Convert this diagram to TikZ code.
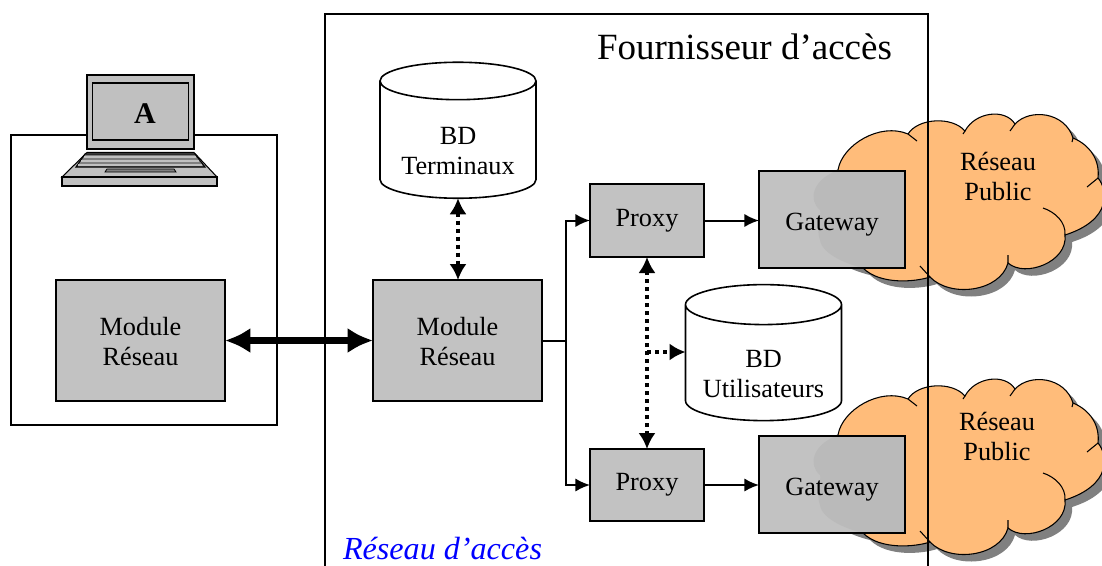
\documentclass[tikz,border=0pt]{standalone}
\usepackage{fontspec}
\setmainfont{Liberation Serif}
\usetikzlibrary{arrows.meta}
\usetikzlibrary{shapes.geometric}
\definecolor{cloudfill}{HTML}{FFBC7A}
\definecolor{boxgray}{HTML}{C2C2C2}
\definecolor{boxgrayb}{HTML}{BABABA}
\definecolor{lapgray}{HTML}{C0C0C0}
\definecolor{cloudshade}{HTML}{808080}
\newcommand{\labelfont}{\fontsize{19.7}{22.5}\selectfont}
\newcommand{\cloudoutline}{(838,170) .. controls (842,145) and (880,122) .. (908,134)
  .. controls (918,118) and (952,116) .. (965,131)
  .. controls (975,112) and (1005,108) .. (1015,124)
  .. controls (1030,108) and (1065,112) .. (1073,138)
  .. controls (1090,145) and (1100,160) .. (1098,178)
  .. controls (1108,190) and (1112,220) .. (1065,235)
  .. controls (1068,262) and (1025,278) .. (1008,263)
  .. controls (1000,292) and (950,298) .. (930,277)
  .. controls (915,282) and (880,285) .. (863,268)
  .. controls (850,265) and (822,255) .. (820,240)
  .. controls (815,225) and (822,215) .. (820,210)
  .. controls (808,200) and (812,180) .. (838,170) -- cycle}
\tikzset{
  modbox/.style={draw, line width=1.5pt, fill=boxgray, align=center, font=\labelfont, inner sep=0pt, outer sep=0pt},
  dbcyl/.style={draw, line width=1.2pt, fill=white, cylinder, shape border rotate=90, aspect=0.33,
    minimum width=117pt, minimum height=102pt, align=center, font=\labelfont, inner sep=0pt, outer sep=0pt},
  dblabel/.style={align=center, font=\labelfont},
  dotarrow/.style={line width=3pt, dash pattern=on 3pt off 3pt, {Latex[length=12pt,width=13pt]}-{Latex[length=12pt,width=13pt]}},
  flowarrow/.style={line width=1.5pt, -{Latex[length=11pt,width=10pt]}}
}
\begin{document}
\begin{tikzpicture}[x=0.75pt, y=-0.75pt]
  \useasboundingbox (0,0) rectangle (1102,565);

  % Clouds
  \foreach \dy/\nm in {0/up, 265/low} {
    \begin{scope}[shift={(0,\dy)}]
      \fill[cloudshade, shift={(7,7)}] \cloudoutline;
      \draw[fill=cloudfill, line width=0.8pt] \cloudoutline;
      \draw[line width=0.8pt] (908,134) -- (917,141) (965,131) -- (963,134) (1015,124) -- (1010,131)
        (1073,138) -- (1072,142) (1098,178) -- (1087,187)
        (1043,208) .. controls (1055,212) and (1066,222) .. (1065,235)
        (1008,263) -- (1008,255) (930,277) -- (920,266);
      \node[modbox, draw=none, minimum width=109.5pt, minimum height=72.75pt] (gate\nm) at (832,219.5) {};
      \begin{scope}
        \clip (gate\nm.north west) rectangle (gate\nm.south east);
        \fill[boxgrayb] \cloudoutline;
      \end{scope}
      \draw[line width=1.5pt] (gate\nm.north west) rectangle (gate\nm.south east);
      \node[font=\labelfont] (gatetxt\nm) at (832,225) {Gateway};
    \end{scope}
  }
  \node[font=\labelfont, align=center] (pubup) at (998,176) {Réseau\\Public};
  \node[font=\labelfont, align=center] (publow) at (997,436) {Réseau\\Public};

  % Provider
  \draw[line width=1.4pt] (325,570) -- (325,14) -- (928,14) -- (928,570);
  \node[font=\fontsize{27.75}{30}\selectfont] (provider) at (744.5,47) {Fournisseur d’accès};
  \node[font=\fontsize{24.1}{26}\selectfont\itshape, text=blue] (access) at (442.5,549) {Réseau d’accès};

  % Terminal
  \draw[line width=1.4pt] (11,425) -- (11,135) -- (277,135) -- (277,425) -- cycle;
  \draw[line width=1pt, fill=lapgray] (87,75) rectangle (194,149);
  \draw[line width=1pt, fill=lapgray] (92.5,83) rectangle (188.5,140);
  \node[font=\fontsize{22.5}{24}\selectfont\bfseries] (termA) at (145,114) {A};
  \draw[line width=0.8pt, fill=lapgray] (87,152.5) -- (194,152.5) -- (217,177) -- (62,177) -- cycle;
  \draw[line width=0.8pt, fill=lapgray] (62,177) rectangle (217,186);
  \draw[line width=0.8pt, fill=gray] (85,154) -- (195,154) -- (205,167) -- (76,167) -- cycle;
  \draw[lapgray, line width=1.2pt] (84,157) -- (196,157) (81,161) -- (199,161) (78,165) -- (202,165);
  \draw[line width=0.6pt, fill=gray] (107,169) -- (174,169) -- (176,172) -- (105,172) -- cycle;

  % Boxes
  \node[modbox, minimum width=126.75pt, minimum height=90.75pt] (modleft) at (140.5,340.5) {};
  \node[dblabel] (modlefttxt) at (140.5,342) {Module\\Réseau};
  \node[modbox, minimum width=126.75pt, minimum height=90.75pt] (modright) at (457.5,340.5) {};
  \node[dblabel] (modrighttxt) at (457.5,342) {Module\\Réseau};
  \node[modbox, minimum width=85.5pt, minimum height=54.75pt] (proxyup) at (647,220.5) {Proxy};
  \node[modbox, minimum width=85.5pt, minimum height=54pt] (proxylow) at (647,485) {Proxy};
  \node[dbcyl] (bdterm) at (458,140) {\mbox{}\\[7.5pt]BD\\Terminaux};
  \node[dbcyl] (bduser) at (763.5,363) {\mbox{}\\[7.5pt]BD\\Utilisateurs};

  % Links
  \draw[line width=5pt, {Latex[length=19pt,width=19pt]}-{Latex[length=19pt,width=19pt]}] (modleft) -- (modright);
  \draw[dotarrow] (bdterm.south) -- (modright.north -| bdterm.south);
  \draw[dotarrow] (proxyup) -- (proxylow);
  \coordinate (branch) at (647,352);
  \draw[line width=3pt, dash pattern=on 3pt off 3pt, -{Latex[length=12pt,width=13pt]}] (branch) -- (bduser.west |- branch);
  \coordinate (fork) at (566,340.5);
  \draw[line width=1.5pt] (modright) -- (fork);
  \draw[flowarrow] (fork) |- (proxyup);
  \draw[flowarrow] (fork) |- (proxylow);
  \draw[flowarrow] (proxyup) -- (gateup.west |- proxyup);
  \draw[flowarrow] (proxylow) -- (gatelow.west |- proxylow);
\end{tikzpicture}
\end{document}
